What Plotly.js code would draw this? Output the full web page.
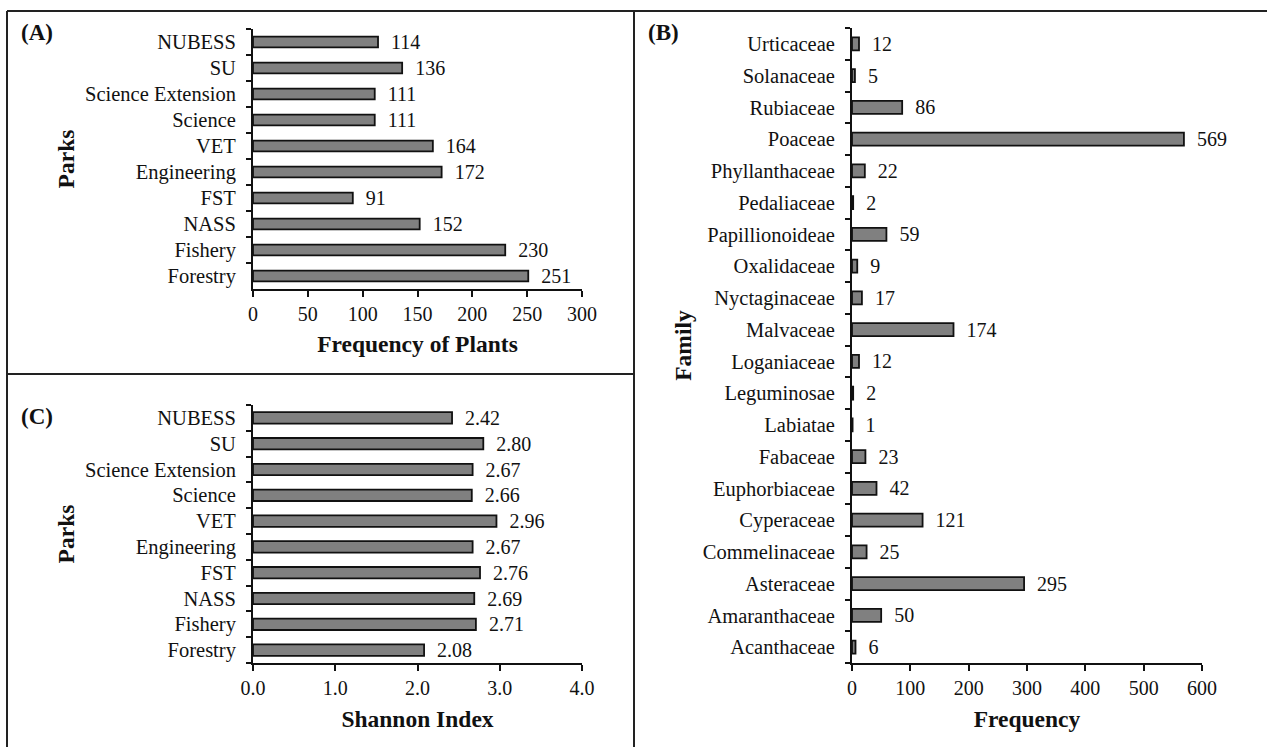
<!DOCTYPE html>
<html>
<head>
<meta charset="utf-8">
<script src="https://cdn.plot.ly/plotly-3.0.1.min.js"></script>
<style>
  html, body { margin: 0; padding: 0; background: #ffffff; }
  #chart { width: 1267px; height: 747px; }
</style>
</head>
<body>
<div id="chart"></div>
<script>
// ---- Data (listed bottom to top, as drawn) ----
const parks = ['Forestry', 'Fishery', 'NASS', 'FST', 'Engineering', 'VET', 'Science', 'Science Extension', 'SU', 'NUBESS'];
const plantFrequency = [251, 230, 152, 91, 172, 164, 111, 111, 136, 114];
const shannonIndex = [2.08, 2.71, 2.69, 2.76, 2.67, 2.96, 2.66, 2.67, 2.80, 2.42];

const families = ['Acanthaceae', 'Amaranthaceae', 'Asteraceae', 'Commelinaceae', 'Cyperaceae', 'Euphorbiaceae',
  'Fabaceae', 'Labiatae', 'Leguminosae', 'Loganiaceae', 'Malvaceae', 'Nyctaginaceae', 'Oxalidaceae',
  'Papillionoideae', 'Pedaliaceae', 'Phyllanthaceae', 'Poaceae', 'Rubiaceae', 'Solanaceae', 'Urticaceae'];
const familyFrequency = [6, 50, 295, 25, 121, 42, 23, 1, 2, 12, 174, 17, 9, 59, 2, 22, 569, 86, 5, 12];

const panelLabels = ['(A)', '(B)', '(C)'];
const titleA = 'Frequency of Plants';
const titleB = 'Frequency';
const titleC = 'Shannon Index';
const titleParks = 'Parks';
const titleFamily = 'Family';

// ---- Styling ----
const W = 1267, H = 747;
const FONT = 'Liberation Serif';
const TXT = '#111111';
const BAR_FILL = '#808080';
const px = v => v / W;
const py = v => 1 - v / H;

function barTrace(x, y, xa, ya, width, fmt) {
  return {
    type: 'bar', orientation: 'h', x: x, y: y, xaxis: xa, yaxis: ya,
    width: width,
    marker: { color: BAR_FILL, line: { color: '#111111', width: 1.8 } },
    texttemplate: '\u00a0\u00a0%{x' + fmt + '}',
    textposition: 'outside', cliponaxis: false, constraintext: 'none',
    textfont: { family: FONT, size: 20, color: TXT },
    hoverinfo: 'x+y', showlegend: false
  };
}

const data = [
  barTrace(plantFrequency, parks, 'x', 'y', 0.42, ''),
  barTrace(familyFrequency, families, 'x2', 'y2', 0.41, ''),
  barTrace(shannonIndex, parks, 'x3', 'y3', 0.44, ':.2f')
];

function xAxis(domain, range, dtick, fmt, title, anchor, standoff) {
  return {
    domain: domain, range: range, dtick: dtick, tick0: 0, tickformat: fmt, anchor: anchor,
    showgrid: false, zeroline: false, showline: true, linecolor: '#111111', linewidth: 2,
    ticks: 'outside', ticklen: 6, tickwidth: 2, tickcolor: '#111111',
    tickfont: { family: FONT, size: 20, color: TXT },
    title: { text: title, font: { family: FONT, size: 23.5, color: TXT, weight: 'bold' }, standoff: standoff },
    fixedrange: true
  };
}
function yAxis(domain, n, title, anchor, standoff) {
  return {
    domain: domain, range: [-0.5, n - 0.5], type: 'category', anchor: anchor,
    showgrid: false, zeroline: false, showline: true, linecolor: '#111111', linewidth: 2,
    ticks: 'outside', tickson: 'boundaries', ticklen: 5, tickwidth: 2, tickcolor: '#111111',
    ticklabelstandoff: 11,
    tickfont: { family: FONT, size: 20.5, color: TXT },
    title: { text: title, font: { family: FONT, size: 23.5, color: TXT, weight: 'bold' }, standoff: standoff },
    fixedrange: true
  };
}

const lineStyle = { color: '#222222', width: 2 };
const layout = {
  width: W, height: H,
  margin: { l: 0, r: 0, t: 0, b: 0 },
  paper_bgcolor: '#ffffff', plot_bgcolor: '#ffffff',
  font: { family: FONT, color: TXT },
  xaxis: xAxis([px(253), px(582)], [0, 300], 50, '', titleA, 'y', 12),
  yaxis: yAxis([py(289), py(29)], parks.length, titleParks, 'x', 4),
  xaxis2: xAxis([px(852), px(1202)], [0, 600], 100, '', titleB, 'y2', 13),
  yaxis2: yAxis([py(663), py(28)], families.length, titleFamily, 'x2', 5),
  xaxis3: xAxis([px(253), px(582)], [0, 4], 1, '.1f', titleC, 'y3', 13),
  yaxis3: yAxis([py(663), py(405)], parks.length, titleParks, 'x3', 4),
  shapes: [
    { type: 'line', xref: 'paper', yref: 'paper', x0: px(7), x1: 1, y0: py(11), y1: py(11), line: lineStyle },
    { type: 'line', xref: 'paper', yref: 'paper', x0: px(7), x1: px(7), y0: py(11), y1: 0, line: lineStyle },
    { type: 'line', xref: 'paper', yref: 'paper', x0: px(634), x1: px(634), y0: py(11), y1: 0, line: lineStyle },
    { type: 'line', xref: 'paper', yref: 'paper', x0: px(7), x1: px(634), y0: py(374), y1: py(374), line: lineStyle }
  ],
  annotations: [
    { text: panelLabels[0], x: px(37), y: py(33) },
    { text: panelLabels[1], x: px(663), y: py(33) },
    { text: panelLabels[2], x: px(37), y: py(417) }
  ].map(a => Object.assign(a, {
    xref: 'paper', yref: 'paper', xanchor: 'center', yanchor: 'middle', showarrow: false,
    font: { family: FONT, size: 23, color: TXT, weight: 'bold' }
  }))
};

Plotly.newPlot('chart', data, layout, { displayModeBar: false, staticPlot: true });
</script>
</body>
</html>
